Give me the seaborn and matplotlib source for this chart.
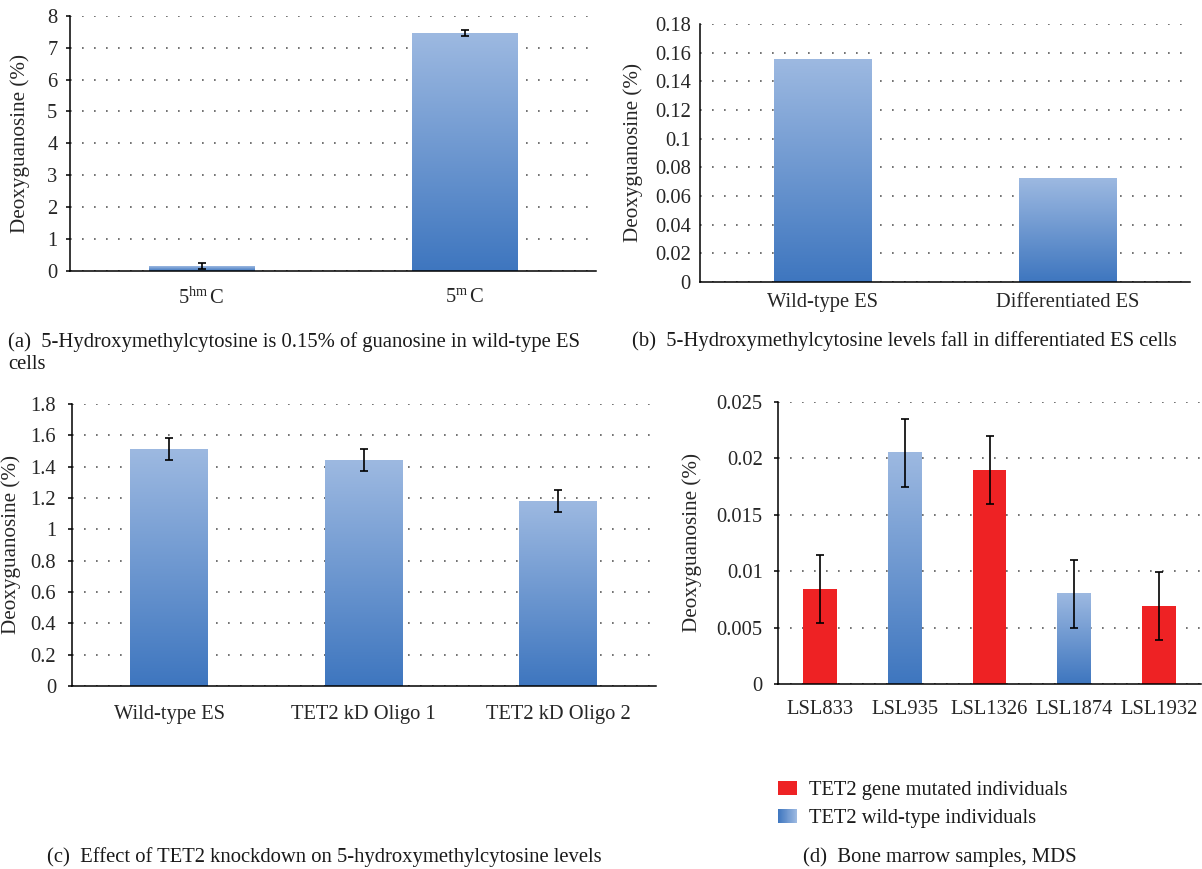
import numpy as np
import matplotlib
matplotlib.use("Agg")
import matplotlib.pyplot as plt
import seaborn as sns
from matplotlib.colors import LinearSegmentedColormap, to_hex
from matplotlib.patches import Rectangle, Patch
from matplotlib.legend_handler import HandlerBase

# ---------------- data ----------------
a_categories = [r"5$^{\mathrm{hm}}\,$C", r"5$^{\mathrm{m}}\,$C"]
a_values = [0.15, 7.45]
a_errors = [0.10, 0.10]
a_yticks = [0, 1, 2, 3, 4, 5, 6, 7, 8]

b_categories = ["Wild-type ES", "Differentiated ES"]
b_values = [0.155, 0.072]
b_yticks = [0, 0.02, 0.04, 0.06, 0.08, 0.1, 0.12, 0.14, 0.16, 0.18]

c_categories = ["Wild-type ES", "TET2 kD Oligo 1", "TET2 kD Oligo 2"]
c_values = [1.51, 1.44, 1.18]
c_errors = [0.07, 0.07, 0.07]
c_yticks = [0, 0.2, 0.4, 0.6, 0.8, 1, 1.2, 1.4, 1.6, 1.8]

d_categories = ["LSL833", "LSL935", "LSL1326", "LSL1874", "LSL1932"]
d_values = [0.0084, 0.0205, 0.0190, 0.0080, 0.0069]
d_errors = [0.0030, 0.0030, 0.0030, 0.0030, 0.0030]
d_groups = ["TET2 gene mutated individuals", "TET2 wild-type individuals",
            "TET2 gene mutated individuals", "TET2 wild-type individuals",
            "TET2 gene mutated individuals"]
d_yticks = [0, 0.005, 0.01, 0.015, 0.02, 0.025]

captions = {
    "a": "(a)  5-Hydroxymethylcytosine is 0.15% of guanosine in wild-type ES\ncells",
    "b": "(b)  5-Hydroxymethylcytosine levels fall in differentiated ES cells",
    "c": "(c)  Effect of TET2 knockdown on 5-hydroxymethylcytosine levels",
    "d": "(d)  Bone marrow samples, MDS",
}
ylabel = "Deoxyguanosine (%)"

# ---------------- style ----------------
sns.set_style("white")
plt.rcParams["font.family"] = ["Liberation Serif", "DejaVu Serif"]
plt.rcParams["mathtext.fontset"] = "custom"
plt.rcParams["mathtext.rm"] = "Liberation Serif"
plt.rcParams["mathtext.it"] = "Liberation Serif:italic"
plt.rcParams["text.color"] = "#1a1a1a"

LIGHT = "#9db9e1"
DARK = "#3e76bf"
MID = "#6d97d0"
RED = "#ee2224"
blue_cmap = LinearSegmentedColormap.from_list("bluegrad", [DARK, LIGHT])
FS = 14.8
YL_FS = 15.2
CAP_FS = 14.9

W, H = 1202, 869
fig = plt.figure(figsize=(W / 100, H / 100), dpi=100)


def make_ax(left, right, top, bottom):
    return fig.add_axes([left / W, 1 - bottom / H, (right - left) / W, (bottom - top) / H])


def style_ax(ax, n, yticks, ymax, xticks_on=True, yticks_on=True,
             xpad=5, ypad=6, label_px=None, left_px=None, width_px=None):
    ax.set_xlim(-0.5, n - 0.5)
    ax.set_ylim(0, ymax)
    ax.set_yticks(yticks)
    ax.set_yticklabels([f"{round(v, 4):g}" for v in yticks])
    for s in ["top", "right"]:
        ax.spines[s].set_visible(False)
    for s in ["left", "bottom"]:
        ax.spines[s].set_color("black")
        ax.spines[s].set_linewidth(1.1)
    ax.set_axisbelow(True)
    ax.yaxis.grid(True, linestyle=(0, (1, 6.2)), color="#5a5a5a", linewidth=1.2)
    ax.xaxis.grid(False)
    ax.set_xticks(np.arange(-0.5, n, 1.0), minor=True)
    ax.tick_params(axis="x", which="major", length=0, pad=xpad, labelsize=FS)
    ax.tick_params(axis="x", which="minor", direction="out",
                   length=4 if xticks_on else 0, width=1.1, color="black")
    ax.tick_params(axis="y", which="major", direction="out",
                   length=3 if yticks_on else 0, width=1.1, color="black",
                   pad=ypad, labelsize=FS, left=True)
    ax.set_xlabel("")
    ax.set_ylabel(ylabel, fontsize=YL_FS, va="center")
    ax.yaxis.set_label_coords((label_px - left_px) / width_px, 0.5)


def gradient_fill(ax, skip=None):
    grad = np.linspace(0, 1, 256).reshape(-1, 1)
    for p in list(ax.patches):
        fc = to_hex(p.get_facecolor())
        if skip is not None and fc == to_hex(skip):
            continue
        x0, y0, w, h = p.get_x(), p.get_y(), p.get_width(), p.get_height()
        ax.imshow(grad, extent=[x0, x0 + w, y0, y0 + h], origin="lower",
                  aspect="auto", cmap=blue_cmap, zorder=1.5, interpolation="bilinear")
        p.set_facecolor("none")
        p.set_edgecolor("none")


def errbars(ax, vals, errs):
    ax.errorbar(np.arange(len(vals)), vals, yerr=errs, fmt="none", ecolor="black",
                elinewidth=1.2, capsize=3, capthick=1.2, zorder=3)


# ---------------- panel (a) ----------------
axa = make_ax(70, 596, 15.7, 271)
sns.barplot(x=a_categories, y=a_values, ax=axa, color=MID, width=0.4,
            errorbar=None, linewidth=0, saturation=1)
gradient_fill(axa)
errbars(axa, a_values, a_errors)
style_ax(axa, len(a_categories), a_yticks, 8, xpad=12, ypad=6,
         label_px=20, left_px=70, width_px=526)

# ---------------- panel (b) ----------------
axb = make_ax(700, 1190, 24, 282)
sns.barplot(x=b_categories, y=b_values, ax=axb, color=MID, width=0.4,
            errorbar=None, linewidth=0, saturation=1)
gradient_fill(axb)
style_ax(axb, len(b_categories), b_yticks, 0.18, xticks_on=False, yticks_on=False,
         xpad=8, ypad=6.5, label_px=633, left_px=700, width_px=490)

# ---------------- panel (c) ----------------
axc = make_ax(72, 655.5, 404, 686)
sns.barplot(x=c_categories, y=c_values, ax=axc, color=MID, width=0.4,
            errorbar=None, linewidth=0, saturation=1)
gradient_fill(axc)
errbars(axc, c_values, c_errors)
style_ax(axc, len(c_categories), c_yticks, 1.8, xpad=13.5, ypad=8.5,
         label_px=11, left_px=72, width_px=583.5)

# ---------------- panel (d) ----------------
axd = make_ax(778, 1201, 402, 684)
palette = {"TET2 gene mutated individuals": RED, "TET2 wild-type individuals": MID}
sns.barplot(x=d_categories, y=d_values, hue=d_groups, palette=palette, dodge=False,
            ax=axd, width=0.4, errorbar=None, linewidth=0, legend=False, saturation=1)
gradient_fill(axd, skip=RED)
errbars(axd, d_values, d_errors)
style_ax(axd, len(d_categories), d_yticks, 0.025, xpad=11.5, ypad=8,
         label_px=692, left_px=778, width_px=423)


class GradientHandler(HandlerBase):
    def create_artists(self, legend, orig_handle, xdescent, ydescent, width, height,
                       fontsize, trans):
        n = 40
        arts = []
        for i in range(n):
            r = Rectangle((-xdescent + width * i / n, -ydescent), width / n * 1.1, height,
                          facecolor=blue_cmap(i / (n - 1)), edgecolor="none",
                          transform=trans)
            arts.append(r)
        return arts


h_red = Patch(facecolor=RED, edgecolor="none")
h_blue = Patch(facecolor=MID, edgecolor="none")
fig.legend([h_red, h_blue], list(palette.keys()), loc="upper left",
           bbox_to_anchor=(778 / W, 1 - 781 / H), frameon=False, fontsize=FS,
           handlelength=0.92, handleheight=0.68, handletextpad=0.6,
           labelspacing=0.42, borderpad=0, borderaxespad=0,
           handler_map={h_blue: GradientHandler()})

# ---------------- captions ----------------
fig.text(8 / W, 1 - 332 / H, captions["a"], fontsize=CAP_FS, ha="left", va="top",
         linespacing=1.2)
fig.text(632 / W, 1 - 341 / H, captions["b"], fontsize=CAP_FS, ha="left", va="center")
fig.text(47 / W, 1 - 857 / H, captions["c"], fontsize=CAP_FS, ha="left", va="center")
fig.text(803 / W, 1 - 857 / H, captions["d"], fontsize=CAP_FS, ha="left", va="center")

fig.savefig("out.png", dpi=100)
